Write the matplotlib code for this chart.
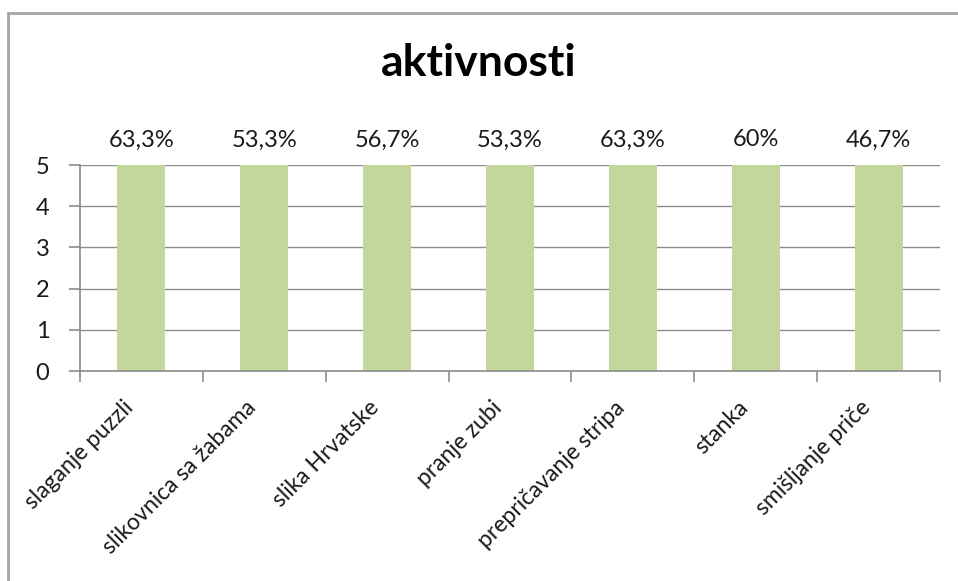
import matplotlib.pyplot as plt
import matplotlib.transforms as mtransforms
import numpy as np
from matplotlib.patches import Rectangle

# podaci
aktivnosti = ['slaganje puzzli', 'slikovnica sa žabama', 'slika Hrvatske', 'pranje zubi',
              'prepričavanje stripa', 'stanka', 'smišljanje priče']
postotci = [63.3, 53.3, 56.7, 53.3, 63.3, 60, 46.7]
oznake = ['63,3%', '53,3%', '56,7%', '53,3%', '63,3%', '60%', '46,7%']
y_ticks = [0, 1, 2, 3, 4, 5]

plt.rcParams['font.family'] = ['Lato', 'DejaVu Sans']
FS = 17
TXT = '#1a1a1a'

fig = plt.figure(figsize=(9.58, 5.81), dpi=100)
# okvir grafikona
fig.patches.append(Rectangle((8 / 958, -0.1), 1.1, 1 - 13 / 581 + 0.1, transform=fig.transFigure,
                             fill=False, edgecolor='#A6A6A6', linewidth=2))

ax = fig.add_axes([80 / 958, 1 - 371 / 581, 860 / 958, 206 / 581])
x = np.arange(len(aktivnosti))
ax.bar(x, postotci, width=0.39, color='#C3D69B', zorder=2)
ax.set_ylim(0, 5)
ax.set_xlim(-0.5, len(aktivnosti) - 0.5)

for xi, txt in zip(x, oznake):
    ax.annotate(txt, (xi, 5), xytext=(0, 18), textcoords='offset points',
                ha='center', va='center', fontsize=FS, color=TXT, annotation_clip=False)

ax.set_yticks(y_ticks)
ax.set_yticklabels([str(t) for t in y_ticks], fontsize=FS, color=TXT)
ax.yaxis.grid(True, color='#8C8C8C', linewidth=1, zorder=0)
ax.set_axisbelow(True)

# x ticks na granicama kategorija
ax.set_xticks(np.arange(-0.5, len(aktivnosti), 1.0))
ax.set_xticklabels([])
ax.set_xticks(x, minor=True)
ax.set_xticklabels(aktivnosti, minor=True, rotation=45, ha='right', va='center',
                   rotation_mode='anchor', fontsize=16.5, color=TXT)
ax.tick_params(axis='x', which='minor', length=0, pad=24)
ax.tick_params(axis='x', which='major', length=8, color='#8C8C8C', width=1.2)
ax.tick_params(axis='y', length=8, color='#8C8C8C', width=1.2, pad=14)

pomak = mtransforms.ScaledTranslation(-8 / 72, 0, fig.dpi_scale_trans)
for lbl in ax.get_xticklabels(minor=True):
    lbl.set_transform(lbl.get_transform() + pomak)

for s in ['top', 'right']:
    ax.spines[s].set_visible(False)
for s in ['left', 'bottom']:
    ax.spines[s].set_color('#8C8C8C')
    ax.spines[s].set_linewidth(1.2)

fig.text(0.5, 1 - 76 / 581, 'aktivnosti', ha='center', va='baseline', fontsize=32, fontweight='bold')

fig.savefig('out.png', dpi=100)
